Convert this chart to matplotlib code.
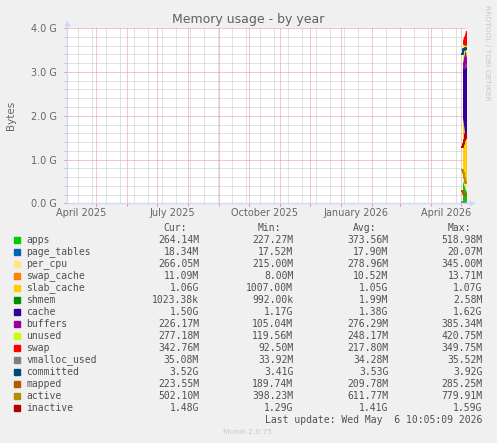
import matplotlib
matplotlib.use("Agg")
import matplotlib.pyplot as plt
import matplotlib.dates as mdates
from matplotlib.patches import Rectangle
from matplotlib.ticker import FixedLocator, MultipleLocator, FuncFormatter
import matplotlib.transforms as mtransforms
import pandas as pd

# ---------------- data ----------------
MiB = 1024 ** 2
GiB = 1024 ** 3

last_update = pd.Timestamp("2026-05-06 10:05:09")
times = pd.to_datetime(["2026-05-02 10:00", "2026-05-03 10:00", "2026-05-04 10:00",
                        "2026-05-05 10:00", "2026-05-06 10:00"])

# stacked areas (MiB)
apps = [519.0, 450.0, 380.0, 300.0, 264.1]
page_tables = [20.1, 18.0, 17.5, 17.7, 18.3]
per_cpu = [345.0, 280.0, 250.0, 215.0, 266.1]
swap_cache = [13.7, 11.0, 8.0, 9.8, 11.1]
slab_cache = [1096.0, 1075.0, 1007.0, 1065.0, 1085.0]
shmem = [2.58, 2.3, 2.0, 1.1, 1.0]
cache = [1198.0, 1331.0, 1485.0, 1659.0, 1536.0]
buffers = [105.0, 250.0, 385.3, 320.0, 226.2]
unused = [420.8, 300.0, 150.0, 119.6, 277.2]
swap = [92.5, 180.0, 250.0, 349.8, 342.8]

# lines (MiB)
vmalloc_used = [33.9, 34.0, 34.3, 35.5, 35.1]
committed = [3492.0, 3604.0, 3584.0, 3635.0, 3604.0]
mapped = [285.3, 210.0, 189.7, 200.0, 223.6]
active = [779.9, 700.0, 600.0, 480.0, 502.1]
inactive = [1321.0, 1382.0, 1485.0, 1628.0, 1516.0]

series_names = ["apps", "page_tables", "per_cpu", "swap_cache", "slab_cache", "shmem",
                "cache", "buffers", "unused", "swap", "vmalloc_used", "committed",
                "mapped", "active", "inactive"]
series_colors = ["#00CC00", "#0066B3", "#FFE680", "#FF8000", "#FFCC00", "#008F00",
                 "#330099", "#990099", "#CCFF00", "#FF0000", "#808080", "#00487D",
                 "#B35A00", "#B38F00", "#B30000"]
stack_data = [apps, page_tables, per_cpu, swap_cache, slab_cache, shmem, cache,
              buffers, unused, swap]
line_data = [vmalloc_used, committed, mapped, active, inactive]

cur_vals = ["264.14M", "18.34M", "266.05M", "11.09M", "1.06G", "1023.38k", "1.50G",
            "226.17M", "277.18M", "342.76M", "35.08M", "3.52G", "223.55M", "502.10M", "1.48G"]
min_vals = ["227.27M", "17.52M", "215.00M", "8.00M", "1007.00M", "992.00k", "1.17G",
            "105.04M", "119.56M", "92.50M", "33.92M", "3.41G", "189.74M", "398.23M", "1.29G"]
avg_vals = ["373.56M", "17.90M", "278.96M", "10.52M", "1.05G", "1.99M", "1.38G",
            "276.29M", "248.17M", "217.80M", "34.28M", "3.53G", "209.78M", "611.77M", "1.41G"]
max_vals = ["518.98M", "20.07M", "345.00M", "13.71M", "1.07G", "2.58M", "1.62G",
            "385.34M", "420.75M", "349.75M", "35.52M", "3.92G", "285.25M", "779.91M", "1.59G"]
col_headers = ["Cur:", "Min:", "Avg:", "Max:"]

title = "Memory usage - by year"
ylabel = "Bytes"
y_max_gib = 4.0
window_days = 400

# ---------------- layout ----------------
W, H = 497, 443
BG = "#F0F0F0"
FONT = "#666666"
LEG = "#505050"
AXC = "#CFD6F8"
MGRID = "#E89090"
GRID = "#C4C4C4"


def fx(px):
    return px / W


def fy(py):
    return 1 - py / H


fig = plt.figure(figsize=(W / 100, H / 100), dpi=100, facecolor=BG)
left_px, right_px, top_px, bot_px = 66.5, 466.5, 28.2, 203.3
ax = fig.add_axes([fx(left_px), fy(bot_px), fx(right_px - left_px), (bot_px - top_px) / H])
ax.set_facecolor("white")

start = last_update - pd.Timedelta(days=window_days)
ax.set_xlim(start, last_update)
ax.set_ylim(0, y_max_gib * GiB)

# stacked areas
base = [0.0] * len(times)
for name, color, vals in zip(series_names[:10], series_colors[:10], stack_data):
    top = [b + v * MiB for b, v in zip(base, vals)]
    ax.fill_between(times, base, top, color=color, linewidth=0, zorder=3)
    base = top

# lines
for name, color, vals in zip(series_names[10:], series_colors[10:], line_data):
    ax.plot(times, [v * MiB for v in vals], color=color, lw=1.44, zorder=4,
            drawstyle="steps-mid", solid_capstyle="projecting")

# grid
ax.set_axisbelow(True)
ax.yaxis.set_major_locator(MultipleLocator(GiB))
ax.yaxis.set_minor_locator(MultipleLocator(0.2 * GiB))
ax.yaxis.set_major_formatter(FuncFormatter(lambda v, p: f"{v / GiB:.1f} G"))

month_starts = pd.date_range(start.normalize(), last_update, freq="MS")
biweekly = pd.date_range("2025-04-13", last_update, freq="14D")
ax.xaxis.set_major_locator(FixedLocator(mdates.date2num(month_starts)))
ax.xaxis.set_minor_locator(FixedLocator(mdates.date2num(biweekly)))
ax.xaxis.set_major_formatter(FuncFormatter(lambda v, p: ""))

ax.grid(which="major", color=MGRID, lw=0.72, linestyle=(0, (1, 1)))
ax.grid(which="minor", color=GRID, lw=0.72, linestyle=(0, (1, 1)))

ax.tick_params(axis="both", which="major", length=2, width=0.72, color=MGRID,
               labelsize=7, labelcolor=FONT, pad=3)
ax.tick_params(axis="y", which="minor", length=2, width=0.72, color=GRID)
ax.tick_params(axis="x", which="minor", length=0)
ax.tick_params(axis="y", which="major", pad=5)
for lab in ax.get_yticklabels():
    lab.set_fontfamily("DejaVu Sans")

for s in ax.spines.values():
    s.set_visible(False)

# axis lines with arrows
ax.plot([0, 1 + 6 / 400], [0, 0], transform=ax.transAxes, color=AXC, lw=0.9,
        clip_on=False, zorder=5)
ax.plot([0, 0], [0, 1 + 5 / 175], transform=ax.transAxes, color=AXC, lw=0.9,
        clip_on=False, zorder=5)
ax.plot([1 + 6 / 400], [0], transform=ax.transAxes, marker=">", ms=5, color=AXC,
        mec="none", clip_on=False, zorder=5)
ax.plot([0], [1 + 5 / 175], transform=ax.transAxes, marker="^", ms=5, color=AXC,
        mec="none", clip_on=False, zorder=5)

# x labels centered mid-month, every 3 months
label_months = [m for m in month_starts if m.month in (1, 4, 7, 10)]
tr = mtransforms.blended_transform_factory(ax.transData, ax.transAxes)
for m in label_months:
    pos = m + pd.Timedelta(days=15)
    ax.text(mdates.date2num(pos), -5 / 175, m.strftime("%B %Y"), transform=tr,
            ha="center", va="top", fontsize=7, color=FONT, family="DejaVu Sans")

# title / labels
fig.text(fx(248), fy(19.5), title, ha="center", va="center", fontsize=9,
         color="#606060", family="DejaVu Sans")
fig.text(fx(10.7), fy(115), ylabel, ha="center", va="center", rotation=90,
         fontsize=7.5, color=FONT, family="DejaVu Sans")
fig.text(fx(487.3), fy(5), "RRDTOOL / TOBI OETIKER", ha="center", va="top",
         rotation=270, fontsize=5.4, color="#C8C8C8", family="DejaVu Sans")

# legend table
mono = "DejaVu Sans Mono"
col_right = [199, 293.3, 388.3, 482.7]
row0, step = 240.0, 12.0
for hdr, xr in zip(col_headers, col_right):
    fig.text(fx(xr - 12), fy(row0 - step), hdr, ha="right", va="center",
             fontsize=7, color=LEG, family=mono)
for i, (name, color) in enumerate(zip(series_names, series_colors)):
    y = row0 + i * step
    fig.patches.append(Rectangle((fx(14), fy(y + 3)), fx(6), 6 / H, color=color,
                                 transform=fig.transFigure, figure=fig))
    fig.text(fx(26.5), fy(y), name, ha="left", va="center", fontsize=7,
             color=LEG, family=mono)
    for vals, xr in zip([cur_vals, min_vals, avg_vals, max_vals], col_right):
        fig.text(fx(xr), fy(y), vals[i], ha="right", va="center", fontsize=7,
                 color=LEG, family=mono)

y_last = row0 + len(series_names) * step
fig.text(fx(482.7), fy(y_last),
         "Last update: " + last_update.strftime("%a %b ") + f"{last_update.day:2d}"
         + last_update.strftime(" %H:%M:%S %Y"),
         ha="right", va="center", fontsize=7, color=LEG, family=mono)
fig.text(fx(247.5), fy(431.7), "Munin 2.0.75", ha="center", va="center",
         fontsize=5.4, color="#C8C8C8", family="DejaVu Sans")

fig.savefig("out.png", dpi=100, facecolor=BG)
